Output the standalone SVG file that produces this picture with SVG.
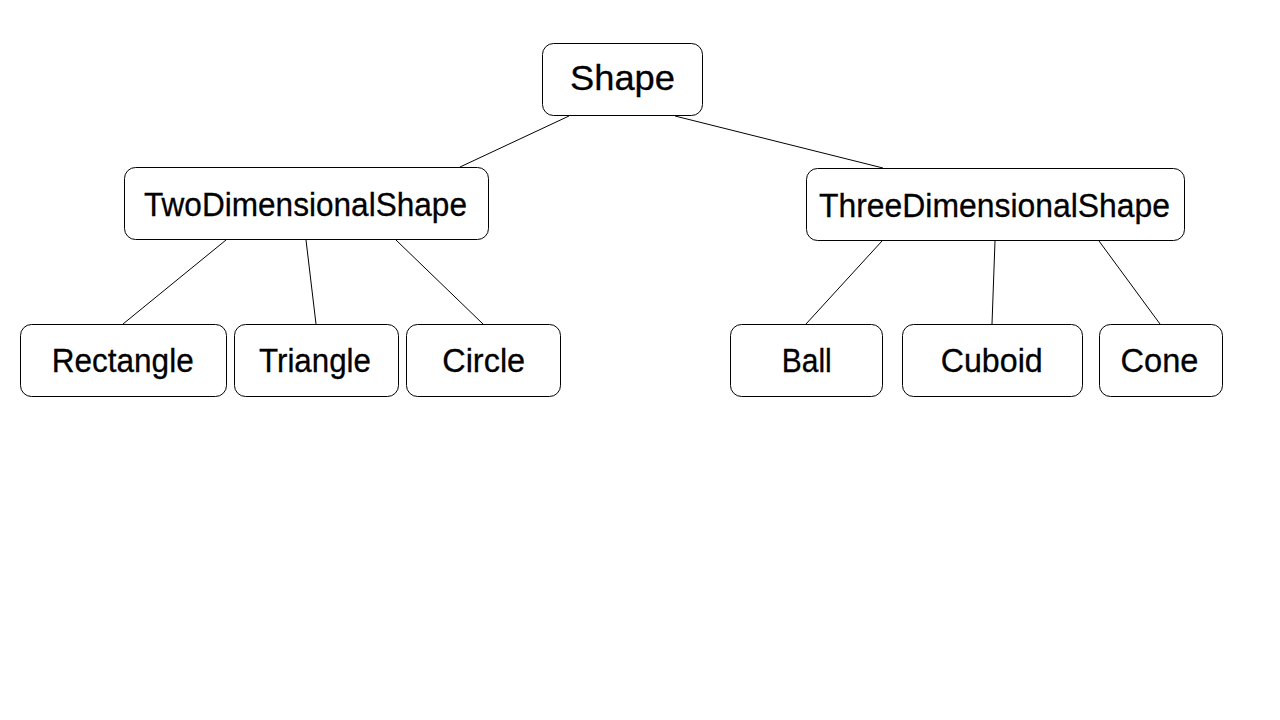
<svg xmlns="http://www.w3.org/2000/svg" width="1280" height="720" viewBox="0 0 1280 720">
<style>
.box{fill:#fff;stroke:#000;stroke-width:1}
.t{font-family:"Liberation Sans",Arial,sans-serif;font-size:33.5px;fill:#000;stroke:#000;stroke-width:0.3;text-anchor:middle}
.big{font-size:35px}
.c line{stroke:#000;stroke-width:1}
</style>
<rect width="1280" height="720" fill="#fff"/>
<g id="connectors" class="c">
<line x1="569" y1="116" x2="460" y2="167"/>
<line x1="675" y1="116" x2="883" y2="168"/>
<line x1="226" y1="240" x2="123" y2="324"/>
<line x1="306" y1="240" x2="316" y2="324"/>
<line x1="396" y1="240" x2="483" y2="324"/>
<line x1="882" y1="241" x2="806" y2="324"/>
<line x1="995" y1="241" x2="992" y2="324"/>
<line x1="1099" y1="241" x2="1160" y2="324"/>
</g>
<g id="shape"><rect class="box" x="542.5" y="43.5" width="160" height="72" rx="11"/><text class="t big" x="622.5" y="89.5" textLength="105" lengthAdjust="spacingAndGlyphs">Shape</text></g>
<g id="two"><rect class="box" x="124.5" y="167.5" width="364" height="72" rx="11"/><text class="t" x="305.5" y="216" textLength="323" lengthAdjust="spacingAndGlyphs">TwoDimensionalShape</text></g>
<g id="three"><rect class="box" x="806.5" y="168.5" width="378" height="72" rx="11"/><text class="t" x="994.5" y="217" textLength="351" lengthAdjust="spacingAndGlyphs">ThreeDimensionalShape</text></g>
<g id="rectangle"><rect class="box" x="20.5" y="324.5" width="206" height="72" rx="11"/><text class="t" x="122.7" y="372" textLength="142" lengthAdjust="spacingAndGlyphs">Rectangle</text></g>
<g id="triangle"><rect class="box" x="234.5" y="324.5" width="164" height="72" rx="11"/><text class="t" x="315" y="372" textLength="112" lengthAdjust="spacingAndGlyphs">Triangle</text></g>
<g id="circle"><rect class="box" x="406.5" y="324.5" width="154" height="72" rx="11"/><text class="t" x="483.7" y="372" textLength="83" lengthAdjust="spacingAndGlyphs">Circle</text></g>
<g id="ball"><rect class="box" x="730.5" y="324.5" width="152" height="72" rx="11"/><text class="t" x="806.8" y="372" textLength="50" lengthAdjust="spacingAndGlyphs">Ball</text></g>
<g id="cuboid"><rect class="box" x="902.5" y="324.5" width="180" height="72" rx="11"/><text class="t" x="991.7" y="372" textLength="102" lengthAdjust="spacingAndGlyphs">Cuboid</text></g>
<g id="cone"><rect class="box" x="1099.5" y="324.5" width="123" height="72" rx="11"/><text class="t" x="1159.5" y="372" textLength="78" lengthAdjust="spacingAndGlyphs">Cone</text></g>
</svg>
